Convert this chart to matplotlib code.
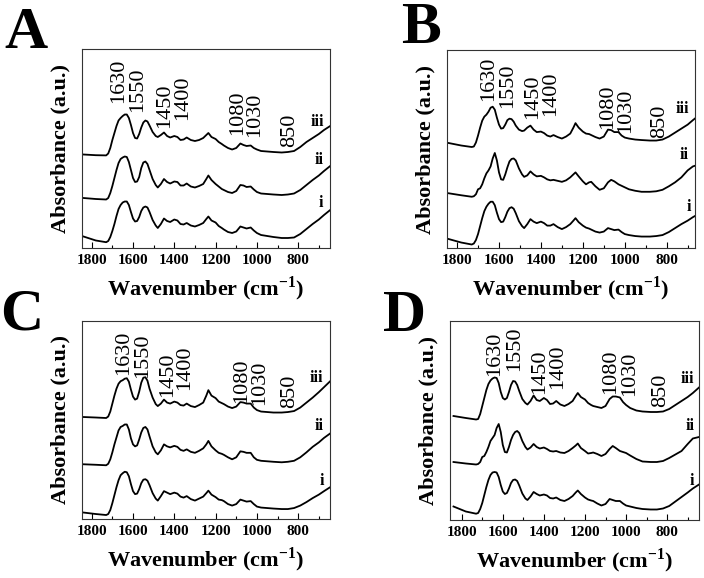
import numpy as np
import matplotlib
matplotlib.use("Agg")
import matplotlib.pyplot as plt
from matplotlib.ticker import MultipleLocator

plt.rcParams['font.family'] = ['Liberation Serif', 'DejaVu Serif']
plt.rcParams['mathtext.fontset'] = 'custom'
plt.rcParams['mathtext.rm'] = 'Liberation Serif'
plt.rcParams['mathtext.bf'] = 'Liberation Serif:bold'

# wavenumber grid (cm-1) shared by all spectra
wn = [1840, 1780, 1730, 1720, 1710, 1700, 1690, 1680, 1670, 1660,
      1650, 1640, 1630, 1620, 1610, 1600, 1590, 1580, 1570, 1560,
      1550, 1540, 1530, 1520, 1505, 1490, 1480, 1465, 1450, 1435,
      1420, 1400, 1385, 1370, 1355, 1340, 1320, 1300, 1280, 1260,
      1245, 1235, 1220, 1200, 1185, 1170, 1160, 1140, 1120, 1100,
      1080, 1065, 1050, 1030, 1015, 1000, 980, 950, 920, 880,
      850, 820, 790, 760, 730, 700, 675, 645]

# absorbance, arbitrary units, already stacked (i bottom, iii top)
a_iii = [93.5, 92.8, 92.6, 94.5, 100, 108, 115, 122, 127.5, 130,
         132, 133.5, 133.5, 130, 123, 115, 110, 109.5, 114, 120.5,
         125.5, 127.5, 126.5, 122.5, 116, 112, 111, 113, 115.5, 112,
         110.5, 112, 111, 108, 108.5, 110.5, 108, 107, 108, 110,
         113, 115, 111, 109, 106, 104, 102.5, 100, 98.5, 100,
         104.5, 103, 102, 102.5, 100, 98.5, 97, 96.5, 96, 95.5,
         96, 97, 101, 106, 110, 114, 118, 122]
a_ii = [50, 49, 48.5, 50, 55, 62, 70, 78, 85, 89,
        90.5, 91.5, 91, 86, 78, 70, 66, 66.5, 71, 80,
        85.5, 86.5, 84, 78, 69, 63, 60.5, 64, 69, 66,
        64.5, 66.5, 66, 62.5, 62.5, 64.5, 61.5, 60.5, 62, 64,
        69, 72.5, 68, 64, 61.5, 59, 58, 56, 55, 57,
        63, 62.5, 61, 61.5, 58.5, 56, 54.5, 54, 53.5, 53,
        53.5, 54.5, 58, 63, 68, 72.5, 77, 82]
a_i = [11.5, 7.5, 5.8, 7, 11, 17, 24, 32, 39, 43,
       45.5, 46.5, 46.5, 43, 36, 29.5, 26.5, 27, 31, 37,
       40.5, 41.5, 40.5, 36, 28, 22.5, 20, 24, 29.5, 27,
       26, 28.5, 27.5, 24, 23.5, 25, 22.5, 21.5, 23, 25,
       29, 31.5, 27.5, 25.5, 22, 20, 18.5, 16, 15, 16.5,
       21.5, 20.5, 19.5, 20.5, 17.5, 15, 13, 12, 11, 10,
       10, 10.5, 14, 19, 24, 28.5, 33, 38]

b_iii = [105.5, 103, 101.5, 102, 106, 113, 121, 128, 132, 134,
         137, 141, 142, 139, 131, 124, 120, 120.5, 124, 128.5,
         130, 129.5, 127, 123, 119, 117.5, 118, 121, 123, 119,
         116.5, 117, 115.5, 113, 112, 113.5, 111.5, 110, 112, 115,
         121, 125.5, 121, 117, 115, 114.5, 113.5, 111.5, 110, 112,
         119, 118.5, 116.5, 116.5, 113, 111, 110, 109, 108.5, 108,
         108, 109, 112, 116, 120, 124, 128.5, 133.5]
b_ii = [55, 53, 51.5, 52, 54, 59, 60, 64, 70, 75,
        78, 82, 90, 95.5, 88, 76, 69, 68.5, 74, 81,
        87, 89.5, 90, 88, 80, 74, 71.5, 73, 77, 74,
        72, 72.5, 71, 69, 68, 68.5, 67.5, 66.5, 68, 71,
        74, 76, 72, 67, 64, 66, 66.5, 62, 58.5, 60,
        66, 68.5, 67, 64, 62.5, 61, 59, 57.5, 56.5, 56.5,
        57, 58.5, 62, 66, 71, 78, 82, 84]
b_i = [9, 5.5, 3.5, 4.5, 8, 14, 22, 30, 37, 41.5,
       44.5, 46.5, 46.5, 43, 35.5, 29, 26, 26.5, 31, 36.5,
       40, 41, 39.5, 35, 27, 22, 20, 24, 29, 26.5,
       25, 26.5, 25, 22.5, 22.5, 24, 21, 19, 21, 24,
       27.5, 30, 26, 22.5, 20.5, 19.5, 18.5, 16.5, 15.5, 16.5,
       20, 19, 18, 18.5, 16, 14, 13, 12, 11.5, 11.5,
       12, 13, 16, 20, 24, 27.5, 31, 34.5]

c_iii = [102.5, 102, 101.5, 103, 108, 116, 124, 131, 136, 138.5,
         139.5, 141, 141.5, 138, 130, 123, 120, 121, 128, 137,
         142, 142.5, 139, 131, 122, 115.5, 113.5, 116, 120, 117,
         116, 118, 117, 114.5, 114, 116, 113.5, 112.5, 114.5, 117,
         124, 129.5, 124, 121.5, 118, 116.5, 115.5, 113, 111.5, 113,
         117.5, 117, 116, 116, 112, 109.5, 108, 107.5, 107, 107,
         107.5, 108.5, 112, 117, 122, 127.5, 132.5, 138.5]
c_ii = [55, 54.5, 54, 55.5, 60, 67, 75, 82, 89, 92.5,
        93.5, 95, 95, 90, 81, 75, 73, 74, 80, 87,
        91.5, 92.5, 90, 83, 73, 67, 65, 69, 75, 73,
        72, 73.5, 72.5, 69.5, 68.5, 70, 67.5, 66.5, 68.5, 71,
        75, 78.5, 73, 69, 66.5, 65.5, 64.5, 62, 60, 62,
        68, 67.5, 66.5, 66.5, 62, 59.5, 58.5, 58, 57.5, 57,
        57.5, 58.5, 62, 67, 72.5, 77, 81.5, 86]
c_i = [6.5, 5, 4, 5, 9, 16, 24, 32, 39, 44,
       46, 47.5, 47, 43, 35, 28, 25, 25.5, 30, 36,
       39.5, 40, 38.5, 34, 26, 20.5, 18.5, 23, 28, 26.5,
       25, 26.5, 25.5, 22.5, 21.5, 23, 20, 18.5, 20.5, 22.5,
       26, 28.5, 24.5, 22, 19.5, 19, 18, 15, 13.5, 15,
       19.5, 18.5, 17.5, 18, 15, 12.5, 11.5, 11, 10.5, 10,
       10, 11, 13.5, 17, 21, 24.5, 28, 32]

d_iii = [104, 102, 100.5, 101, 106, 114, 122, 130, 136, 139.5,
         141.5, 142.5, 142, 137, 128, 122, 120.5, 122, 128, 135,
         139, 138.5, 135, 129, 121, 117, 115.5, 119, 124.5, 120,
         119, 122, 120, 116, 116.5, 119, 115.5, 114, 116, 119,
         124, 127, 123, 120.5, 117, 115, 114, 113, 112, 114,
         121, 123.5, 123.5, 122.5, 118, 115, 112, 109.5, 108.5, 108,
         108, 108.5, 111, 115, 119, 123, 127, 132.5]
d_ii = [58, 56.5, 55.5, 56, 58, 63, 64, 68, 73, 79,
        82, 85, 92, 96, 88, 75, 68, 67.5, 73, 80,
        85, 88, 89, 87, 79, 73, 70.5, 72.5, 76, 73,
        71.5, 72.5, 71, 69, 68.5, 69, 67.5, 67, 69, 72,
        74.5, 76.5, 72, 69, 66.5, 67, 67.5, 66, 64, 66,
        71, 74, 72, 69, 68, 67, 64.5, 61, 58.5, 58,
        58, 59, 62, 65.5, 69, 76, 81.5, 83]
d_i = [13.5, 8.5, 6.3, 7, 11, 17, 25, 33, 40, 45,
       47.5, 48, 47.5, 43, 35, 28.5, 26, 27, 31.5, 37,
       40, 40.5, 39, 34.5, 26.5, 21.5, 20, 23.5, 28, 26,
       24.5, 25.5, 24.5, 22, 21.5, 22.5, 20, 19, 21, 24,
       27.5, 29.5, 26, 22.5, 20.5, 19.5, 19, 16.5, 14.5, 16,
       21, 20, 19, 19, 16.5, 14.5, 13.5, 12, 11, 10.5,
       10.5, 11.5, 14, 18.5, 23, 27.5, 31.5, 35.5]

peak_labels = ["1630", "1550", "1450", "1400", "1080", "1030", "850"]
sample_labels = ["i", "ii", "iii"]
panel_names = ["A", "B", "C", "D"]

spectra = {"A": [a_i, a_ii, a_iii], "B": [b_i, b_ii, b_iii],
           "C": [c_i, c_ii, c_iii], "D": [d_i, d_ii, d_iii]}

# where the hand-placed labels sit in each panel (x in cm-1, y in a.u.)
peak_pos = {
    "A": [(1649, 145), (1558, 136), (1423, 120), (1336, 128), (1071, 113), (987, 111), (820, 101)],
    "B": [(1626, 148), (1538, 141), (1419, 130), (1334, 133), (1062, 120), (975, 116), (811, 111)],
    "C": [(1625, 145), (1534, 142), (1413, 123), (1327, 130), (1052, 117), (963, 115), (820, 112)],
    "D": [(1620, 144), (1522, 149), (1400, 126), (1312, 131), (1054, 126), (959, 124), (810, 113)],
}
sample_pos = {
    "A": [(690, 45), (700, 88), (705, 126)],
    "B": [(695, 41), (715, 93), (724, 140)],
    "C": [(686, 38), (700, 93), (714, 142)],
    "D": [(678, 39), (690, 94), (702, 141)],
}

W, H = 704, 578
fig = plt.figure(figsize=(W / 100, H / 100), dpi=100)

# axes boxes in pixels: left, top, right, bottom
boxes = {"A": (82, 49, 330, 248), "B": (447, 50, 695, 248),
         "C": (82, 321, 330, 519), "D": (450, 321, 699, 520)}
xlims = {"A": (1847, 646), "B": (1848, 665), "C": (1847, 646), "D": (1857, 645)}
letter_pos = {"A": (4, 48), "B": (401, 43), "C": (0, 329), "D": (383, 331)}

for name in panel_names:
    l, t, r, b = boxes[name]
    ax = fig.add_axes([l / W, 1 - b / H, (r - l) / W, (b - t) / H])
    for y in spectra[name]:
        ax.plot(wn, y, color="black", lw=1.3)
    ax.set_xlim(*xlims[name])
    ax.set_ylim(0, 199)
    ax.set_yticks([])
    ax.xaxis.set_major_locator(MultipleLocator(200))
    ax.xaxis.set_minor_locator(MultipleLocator(100))
    ax.tick_params(axis="x", which="both", direction="in", top=False, labelsize=11, pad=4)
    ax.tick_params(axis="x", which="major", length=4, width=0.8)
    ax.tick_params(axis="x", which="minor", length=2.5, width=0.8)
    for lab in ax.get_xticklabels():
        lab.set_fontweight("bold")
    for sp in ax.spines.values():
        sp.set_linewidth(0.8)
        sp.set_color("#333333")
    ax.set_ylabel("Absorbance (a.u.)", fontsize=16, fontweight="bold", labelpad=8)
    ax.set_xlabel(r"Wavenumber (cm$^{\mathbf{-1}}$)", fontsize=16, fontweight="bold", labelpad=5.5)

    for txt, (px, py) in zip(peak_labels, peak_pos[name]):
        ax.text(px, py, txt, rotation=90, rotation_mode="anchor", ha="left",
                va="baseline", fontsize=16)
    for txt, (px, py) in zip(sample_labels, sample_pos[name]):
        ax.text(px, py, txt, ha="center", va="center", fontsize=11.5, fontweight="bold")

    lx, ly = letter_pos[name]
    fig.text(lx / W, 1 - ly / H, name, fontsize=43, fontweight="bold",
             ha="left", va="baseline")

fig.savefig("out.png", dpi=100)
